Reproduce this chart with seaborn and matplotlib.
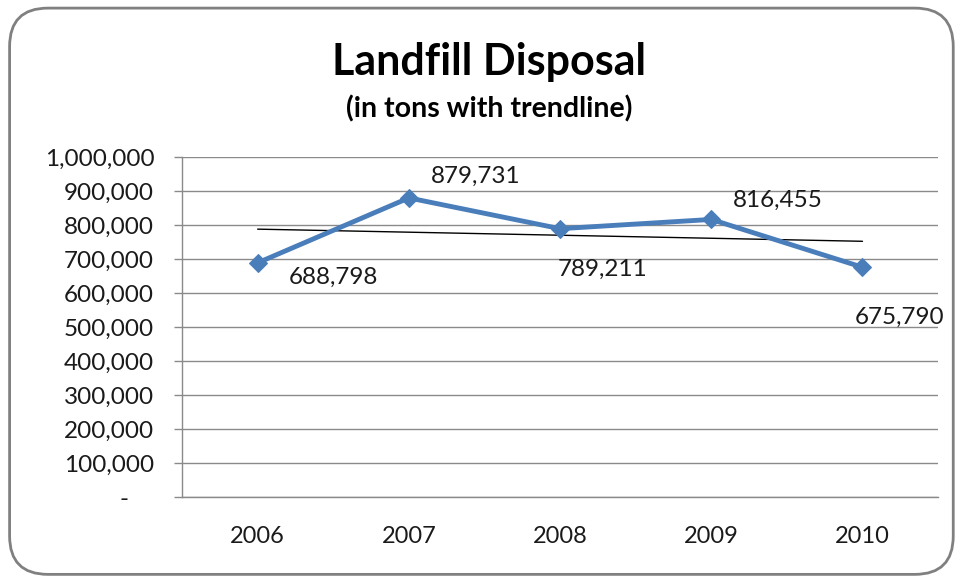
import matplotlib
matplotlib.use("Agg")
import matplotlib.pyplot as plt
from matplotlib.patches import FancyBboxPatch
from matplotlib.ticker import FuncFormatter, FixedLocator
import numpy as np
import pandas as pd
import seaborn as sns

years = ["2006", "2007", "2008", "2009", "2010"]
tons = [688798, 879731, 789211, 816455, 675790]
label_offsets = [(76, -15), (67, 22), (43, -41), (67, 19), (37, -50)]

sns.set_style("white")
plt.rcParams["font.family"] = ["Lato", "DejaVu Sans"]

df = pd.DataFrame({"pos": np.arange(len(years)), "tons": tons})

fig = plt.figure(figsize=(9.59, 5.79), dpi=100)
fig.patch.set_facecolor("white")

# rounded frame around the chart
frame = FancyBboxPatch((0.010, 0.008), 0.984, 0.978,
                       boxstyle="round,pad=0,rounding_size=0.04",
                       transform=fig.transFigure, facecolor="none",
                       edgecolor="#808080", linewidth=2.0, mutation_aspect=959/579)
fig.patches.append(frame)

ax = fig.add_axes([0.1898, 0.1416, 0.7884, 0.5872])
ax.set_facecolor("none")

grid_c = "#8a8a8a"
ax.set_ylim(0, 1_000_000)
ax.set_xlim(-0.5, len(years) - 0.5)
ax.yaxis.set_major_locator(FixedLocator(np.arange(0, 1_000_001, 100_000)))
ax.yaxis.grid(True, color=grid_c, linewidth=1.0)
ax.set_axisbelow(True)

# linear trend over the five years
sns.regplot(data=df, x="pos", y="tons", ax=ax, scatter=False, ci=None,
            truncate=True, color="black", line_kws={"linewidth": 1.0})

sns.lineplot(data=df, x="pos", y="tons", ax=ax, color="#4a7ebb",
             linewidth=3.5, marker="D", markersize=9,
             markeredgecolor="#4a7ebb")

for i, (v, off) in enumerate(zip(tons, label_offsets)):
    ax.annotate(f"{v:,}", (i, v), xytext=off, textcoords="offset pixels",
                ha="center", va="center", fontsize=17.5, color="#1a1a1a")

# accounting-style labels: zero shown as a dash
ax.yaxis.set_major_formatter(FuncFormatter(
    lambda v, p: "-    " if v == 0 else f"{int(v):,}"))
ax.set_xticks(range(len(years)))
ax.set_xticklabels(years)
ax.set_xticks(np.arange(-0.5, len(years)), minor=True)
ax.tick_params(axis="x", which="major", length=0, pad=21, labelsize=17, colors="#1a1a1a")
ax.tick_params(axis="x", which="minor", length=6, width=1, color=grid_c, direction="out")
ax.tick_params(axis="y", which="major", length=6, width=1, color=grid_c, direction="out",
               pad=14, labelsize=17.5, labelcolor="#1a1a1a", left=True)

for s in ["top", "right"]:
    ax.spines[s].set_visible(False)
for s in ["left", "bottom"]:
    ax.spines[s].set_color(grid_c)
    ax.spines[s].set_linewidth(1.0)
ax.set_xlabel("")
ax.set_ylabel("")

fig.text(0.510, 0.893, "Landfill Disposal", ha="center", va="center",
         fontsize=31, fontweight="bold", color="black")
fig.text(0.510, 0.812, "(in tons with trendline)", ha="center", va="center",
         fontsize=20.5, fontweight="bold", color="black")

fig.savefig("out.png", dpi=100)
